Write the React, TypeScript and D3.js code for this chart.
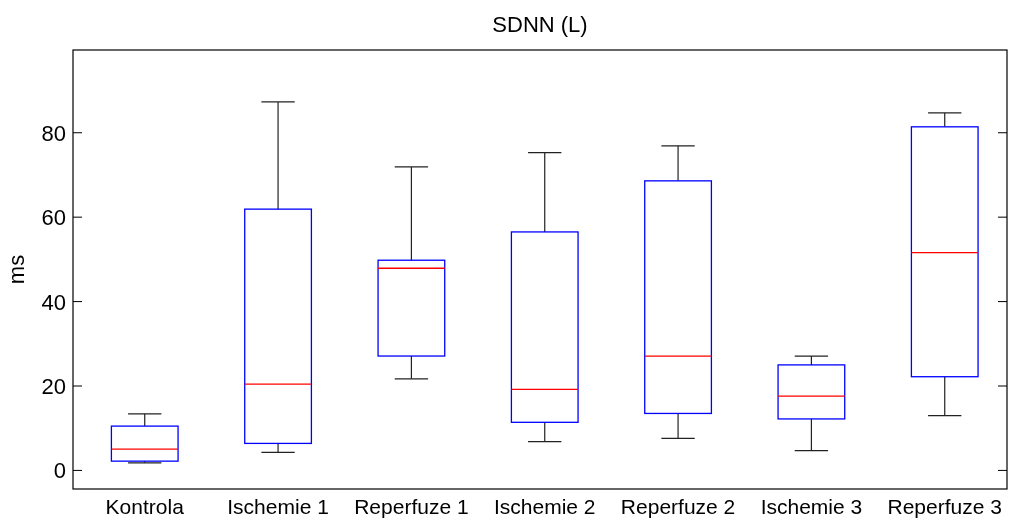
import React, { useEffect, useRef } from "react";
import * as d3 from "d3";

const groups = ["Kontrola", "Ischemie 1", "Reperfuze 1", "Ischemie 2", "Reperfuze 2", "Ischemie 3", "Reperfuze 3"];
const lowerWhisker = [1.8, 4.3, 21.7, 6.8, 7.6, 4.7, 13.0];
const q1 = [2.2, 6.4, 27.1, 11.4, 13.5, 12.2, 22.2];
const medians = [5.05, 20.45, 47.9, 19.2, 27.1, 17.6, 51.6];
const q3 = [10.5, 61.9, 49.8, 56.5, 68.6, 25.0, 81.4];
const upperWhisker = [13.4, 87.3, 71.9, 75.3, 76.9, 27.1, 84.7];
const yTicks = [0, 20, 40, 60, 80];

const App = () => {
  const ref = useRef<SVGSVGElement>(null);

  useEffect(() => {
    const width = 1009;
    const height = 520;
    const left = 73;
    const right = 1007;
    const top = 50;
    const bottom = 489;
    const font = "'Liberation Sans', Arial, sans-serif";
    const fs = 22;

    const svg = d3.select(ref.current);
    svg.selectAll("*").remove();
    svg.attr("width", width).attr("height", height);

    const x = d3.scaleLinear().domain([0.462, 7.467]).range([left, right]);
    const y = d3.scaleLinear().domain([-4.4, 99.6]).range([bottom, top]);
    const boxHalf = (x(1.5) - x(1)) / 2;
    const capHalf = boxHalf / 2;

    const data = groups.map((name, i) => ({
      name,
      pos: i + 1,
      lo: lowerWhisker[i],
      q1: q1[i],
      med: medians[i],
      q3: q3[i],
      hi: upperWhisker[i],
    }));

    // frame
    svg
      .append("rect")
      .attr("x", left)
      .attr("y", top)
      .attr("width", right - left)
      .attr("height", bottom - top)
      .attr("fill", "none")
      .attr("stroke", "#000")
      .attr("stroke-width", 1.2);

    // y ticks both sides, pointing in
    const tickG = svg.append("g").attr("stroke", "#000").attr("stroke-width", 1);
    tickG
      .selectAll("line.l")
      .data(yTicks)
      .join("line")
      .attr("class", "l")
      .attr("x1", left)
      .attr("x2", left + 9)
      .attr("y1", (d) => y(d))
      .attr("y2", (d) => y(d));
    tickG
      .selectAll("line.r")
      .data(yTicks)
      .join("line")
      .attr("class", "r")
      .attr("x1", right)
      .attr("x2", right - 9)
      .attr("y1", (d) => y(d))
      .attr("y2", (d) => y(d));

    svg
      .append("g")
      .selectAll("text")
      .data(yTicks)
      .join("text")
      .attr("x", left - 7)
      .attr("y", (d) => y(d))
      .attr("dy", "0.36em")
      .attr("text-anchor", "end")
      .attr("font-family", font)
      .attr("font-size", fs)
      .text((d) => d);

    // whiskers
    const g = svg.append("g");
    const wg = g.append("g").attr("stroke", "#222").attr("stroke-width", 1.2);
    wg.selectAll("line.wu")
      .data(data)
      .join("line")
      .attr("class", "wu")
      .attr("x1", (d) => x(d.pos))
      .attr("x2", (d) => x(d.pos))
      .attr("y1", (d) => y(d.q3))
      .attr("y2", (d) => y(d.hi));
    wg.selectAll("line.wl")
      .data(data)
      .join("line")
      .attr("class", "wl")
      .attr("x1", (d) => x(d.pos))
      .attr("x2", (d) => x(d.pos))
      .attr("y1", (d) => y(d.q1))
      .attr("y2", (d) => y(d.lo));
    wg.selectAll("line.cu")
      .data(data)
      .join("line")
      .attr("class", "cu")
      .attr("x1", (d) => x(d.pos) - capHalf)
      .attr("x2", (d) => x(d.pos) + capHalf)
      .attr("y1", (d) => y(d.hi))
      .attr("y2", (d) => y(d.hi));
    wg.selectAll("line.cl")
      .data(data)
      .join("line")
      .attr("class", "cl")
      .attr("x1", (d) => x(d.pos) - capHalf)
      .attr("x2", (d) => x(d.pos) + capHalf)
      .attr("y1", (d) => y(d.lo))
      .attr("y2", (d) => y(d.lo));

    // boxes
    g.selectAll("rect.box")
      .data(data)
      .join("rect")
      .attr("class", "box")
      .attr("x", (d) => x(d.pos) - boxHalf)
      .attr("width", boxHalf * 2)
      .attr("y", (d) => y(d.q3))
      .attr("height", (d) => y(d.q1) - y(d.q3))
      .attr("fill", "none")
      .attr("stroke", "#0000ff")
      .attr("stroke-width", 1.3);

    // medians
    g.selectAll("line.med")
      .data(data)
      .join("line")
      .attr("class", "med")
      .attr("x1", (d) => x(d.pos) - boxHalf)
      .attr("x2", (d) => x(d.pos) + boxHalf)
      .attr("y1", (d) => y(d.med))
      .attr("y2", (d) => y(d.med))
      .attr("stroke", "#ff0000")
      .attr("stroke-width", 1.3);

    // x labels
    svg
      .append("g")
      .selectAll("text")
      .data(data)
      .join("text")
      .attr("x", (d) => x(d.pos))
      .attr("y", 514)
      .attr("text-anchor", "middle")
      .attr("font-family", font)
      .attr("font-size", 21)
      .text((d) => d.name);

    // title
    svg
      .append("text")
      .attr("x", (left + right) / 2)
      .attr("y", 32)
      .attr("text-anchor", "middle")
      .attr("font-family", font)
      .attr("font-size", fs)
      .text("SDNN (L)");

    // y label
    svg
      .append("text")
      .attr("transform", `translate(24, ${(top + bottom) / 2}) rotate(-90)`)
      .attr("text-anchor", "middle")
      .attr("font-family", font)
      .attr("font-size", fs)
      .text("ms");
  }, []);

  return (
    <div style={{ position: "fixed", left: 0, top: 0 }}>
      <svg ref={ref}></svg>
    </div>
  );
};

export default App;
